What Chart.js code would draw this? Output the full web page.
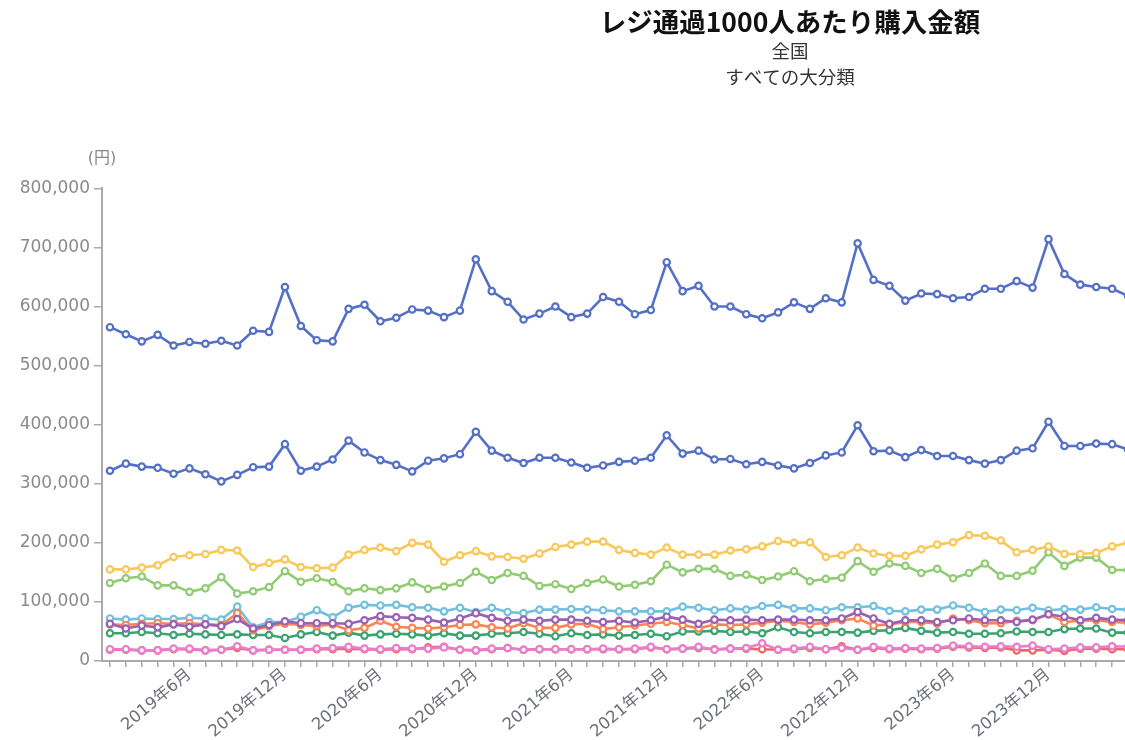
<!DOCTYPE html>
<html>
<head>
<meta charset="utf-8">
<script src="https://cdn.jsdelivr.net/npm/chart.js@4/dist/chart.umd.min.js"></script>
<style>
html,body{margin:0;padding:0;background:#fff;overflow:hidden;}
#wrap{position:relative;width:1580px;height:740px;}
</style>
</head>
<body>
<div id="wrap"><canvas id="c" width="1580" height="740"></canvas></div>
<script>
// ---- data (values in thousands of yen) ----
const startYear = 2019;
const monthCount = 65; // 2019年1月 .. 2024年5月
const categories = [];
for (let k = 0; k < monthCount; k++) {
  const y = startYear + Math.floor(k / 12), m = (k % 12) + 1;
  categories.push(y + '年' + m + '月');
}
const tickLabels = ['2019年6月','2019年12月','2020年6月','2020年12月','2021年6月','2021年12月','2022年6月','2022年12月','2023年6月','2023年12月','2024年6月'];
const yTicks = [0,100000,200000,300000,400000,500000,600000,700000,800000];

const series1 = [565,553,541,552,534,540,537,542,534,559,557,633,567,543,541,596,603,575,581,595,593,582,593,680,626,608,578,588,600,582,588,616,608,587,594,675,626,635,600,600,587,580,590,607,596,614,607,707,645,635,610,622,621,614,616,630,630,643,632,714,655,637,633,630,618];
const series2 = [132,140,143,128,128,117,123,142,114,118,125,152,134,140,134,118,123,120,123,133,122,126,132,151,137,149,144,127,130,122,132,138,126,129,135,163,150,156,156,144,146,137,143,152,135,139,141,169,151,165,161,149,156,140,149,165,144,144,153,184,161,175,175,154,154];
const series3 = [155,155,158,162,176,179,181,188,187,159,166,172,159,157,158,180,188,192,186,200,197,168,179,186,177,176,173,182,193,197,202,202,188,183,180,192,180,180,180,187,189,194,203,200,201,176,179,192,182,178,178,189,197,201,213,212,204,184,188,194,181,181,183,194,200];
const series4 = [19,19,18,18,20,20,18,19,22,18,19,19,19,20,20,21,20,19,20,20,23,24,19,18,20,22,19,20,20,20,20,20,20,20,23,20,21,22,20,21,21,20,19,20,22,20,25,19,22,20,21,20,21,24,23,22,23,18,18,19,17,21,21,20,20];
const series5 = [72,70,72,71,71,73,72,70,92,57,66,66,75,86,74,90,95,94,95,91,90,84,90,83,90,83,81,87,87,88,87,86,84,84,84,84,92,90,86,89,87,93,95,89,89,86,91,91,93,85,84,87,87,94,90,83,87,86,90,86,88,87,91,88,87];
const series6 = [47,47,49,47,44,46,45,44,45,44,44,39,45,49,43,48,43,45,46,45,43,47,43,43,46,47,49,46,42,47,44,45,43,44,46,42,50,50,51,49,50,47,57,49,47,49,49,48,51,52,56,51,48,49,46,46,47,50,49,49,54,55,55,48,48];
const series7 = [62,61,63,64,63,64,62,61,81,52,59,63,61,59,62,52,56,68,58,56,55,57,61,62,57,55,64,56,56,62,63,54,57,60,63,66,61,55,62,61,62,65,68,66,62,65,69,72,60,62,66,66,63,72,69,64,64,68,69,79,66,68,69,66,65];
const series8 = [63,55,60,57,62,58,62,59,71,55,61,67,64,64,64,63,69,76,74,73,70,65,72,81,73,68,70,68,70,70,68,66,68,65,69,75,70,63,70,69,70,69,70,70,69,69,72,83,72,63,69,69,66,69,72,69,69,66,70,79,75,69,73,70,69];
const series9 = [20,20,18,18,21,21,18,19,25,18,19,19,19,21,22,24,21,20,22,21,21,23,19,18,21,22,19,20,20,20,20,21,20,21,24,20,21,24,19,21,22,30,19,21,24,20,22,19,24,21,22,21,22,26,25,24,25,24,26,20,21,23,23,25,24];
const series10 = [322,334,329,327,317,326,316,304,315,328,329,367,322,329,341,373,353,340,332,321,339,343,350,388,356,344,335,344,344,336,327,331,337,339,344,382,351,356,341,342,333,337,331,326,335,348,353,399,355,356,345,357,347,347,340,334,340,356,360,405,364,364,368,367,358];
const unit = 1000;

const allSeries = [series1,series2,series3,series4,series5,series6,series7,series8,series9,series10];
const palette = ['#5470c6','#91cc75','#fac858','#ee6666','#73c0de','#3ba272','#fc8452','#9a60b4','#ea7ccc','#5470c6'];

const datasets = allSeries.map((s, i) => ({
  data: s.map(v => v * unit),
  borderColor: palette[i],
  backgroundColor: '#ffffff',
  pointBackgroundColor: '#ffffff',
  pointBorderColor: palette[i],
  borderWidth: 2.6,
  pointRadius: 3.2,
  pointBorderWidth: 2.2,
  tension: 0,
  fill: false,
  yAxisID: 'y',
  order: allSeries.length - i
}));

const unitLabel = {
  id: 'unitLabel',
  afterDraw(chart) {
    const {ctx, chartArea} = chart;
    ctx.save();
    ctx.font = '16px "DejaVu Sans", "Noto Sans CJK JP", sans-serif';
    ctx.fillStyle = '#888888';
    ctx.textAlign = 'center';
    ctx.textBaseline = 'middle';
    ctx.fillText('(円)', chartArea.left, chartArea.top - 29);
    ctx.restore();
  }
};

new Chart(document.getElementById('c'), {
  type: 'line',
  data: { labels: categories, datasets },
  plugins: [unitLabel],
  options: {
    responsive: false,
    animation: false,
    devicePixelRatio: 1,
    layout: { padding: 0 },
    plugins: {
      legend: { display: false },
      tooltip: { enabled: false },
      title: {
        display: true,
        text: 'レジ通過1000人あたり購入金額',
        color: '#111111',
        font: { family: '"Noto Sans CJK JP", sans-serif', size: 26.5, weight: 'bold', lineHeight: 1.2 },
        padding: { top: 6, bottom: 0 }
      },
      subtitle: {
        display: true,
        text: ['全国', 'すべての大分類'],
        color: '#333333',
        font: { family: '"Noto Sans CJK JP", sans-serif', size: 18.5, lineHeight: 1.42 },
        padding: { top: 0, bottom: 98 }
      }
    },
    scales: {
      x: {
        type: 'category',
        offset: true,
        afterFit(scale) { scale.height = 79; },
        grid: { display: true, offset: false, drawOnChartArea: false, drawTicks: true, tickLength: 6, color: '#aaaaaa', lineWidth: 1.5 },
        border: { display: true, color: '#aaaaaa', width: 2 },
        ticks: {
          autoSkip: false,
          maxRotation: 40,
          minRotation: 40,
          color: '#6e7079',
          padding: -2,
          font: { family: '"DejaVu Sans", "Noto Sans CJK JP", sans-serif', size: 16.5 },
          callback: function(val) {
            const lab = this.getLabelForValue(val);
            return tickLabels.includes(lab) ? lab : '';
          }
        }
      },
      y: {
        position: 'left',
        min: 0,
        max: 800000,
        afterFit(scale) { scale.width = 102; },
        afterBuildTicks(scale) { scale.ticks = yTicks.map(v => ({ value: v })); },
        grid: { display: true, drawOnChartArea: false, drawTicks: true, tickLength: 8, color: '#aaaaaa', lineWidth: 1.5 },
        border: { display: true, color: '#aaaaaa', width: 2 },
        ticks: {
          color: '#8a8a8a',
          padding: 4,
          font: { family: '"DejaVu Sans", sans-serif', size: 17 },
          callback: v => v.toLocaleString('en-US')
        }
      },
      yRight: {
        position: 'right',
        display: true,
        afterFit(scale) { scale.width = 444; },
        grid: { display: false, drawTicks: false },
        border: { display: false },
        ticks: { display: false }
      }
    }
  }
});
</script>
</body>
</html>
